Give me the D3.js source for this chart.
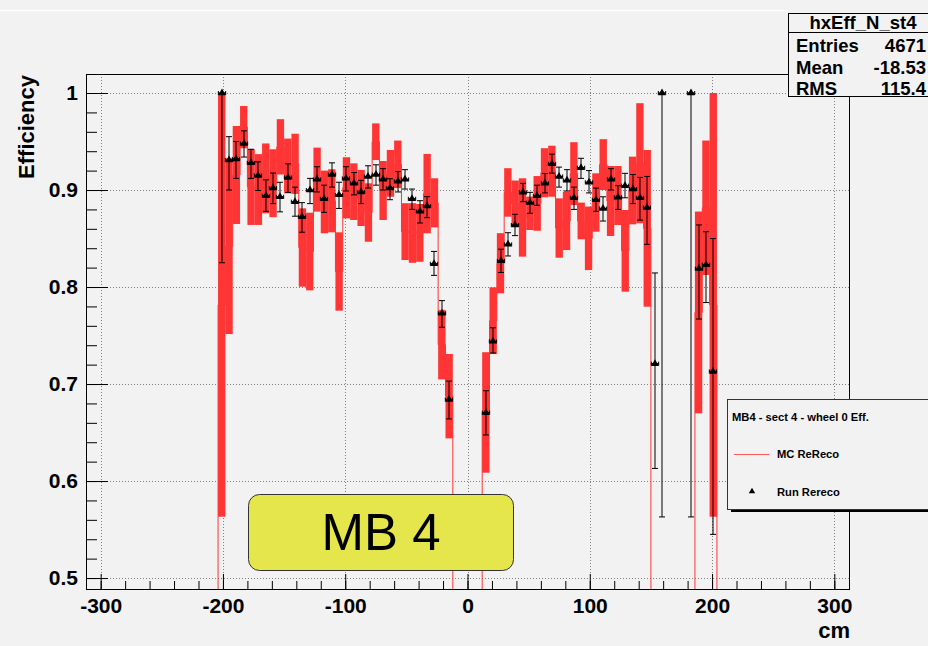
<!DOCTYPE html>
<html>
<head>
<meta charset="utf-8">
<script src="https://cdn.jsdelivr.net/npm/d3@7"></script>
<style>
  body { margin: 0; background: #f2f2f2; }
  svg { display: block; }
  text { font-family: "Liberation Sans", Arial, Helvetica, sans-serif; }
</style>
</head>
<body>
<svg id="chart" width="928" height="646"></svg>
<script>
// Bin centres along the chamber (cm), 6 cm bins
const binCenters = [
  -201, -195, -189, -183, -177, -171, -165, -159, -153, -147, -141, -135,
  -129, -123, -117, -111, -105, -99, -93, -87, -81, -75, -69, -63,
  -57, -51, -45, -39, -33, -27, -21, -15, -9, -3, 3, 9,
  15, 21, 27, 33, 39, 45, 51, 57, 63, 69, 75, 81,
  87, 93, 99, 105, 111, 117, 123, 129, 135, 141, 147, 153,
  159, 165, 171, 177, 183, 189, 195, 201
];
const binHalfWidth = 3;

// Run Rereco efficiency (null = empty bin) and asymmetric errors
const runEff = [
  1.0, 0.931, 0.932, 0.948, 0.928, 0.915, 0.894, 0.902, 0.893, 0.913, 0.888, 0.8725,
  0.900, 0.911, 0.891, 0.916, 0.895, 0.912, 0.907, 0.898, 0.914, 0.916, 0.911, 0.902,
  0.909, 0.911, 0.891, 0.878, 0.8835, 0.824, 0.773, 0.684, null, null, null, null,
  0.6705, 0.744, 0.827, 0.844, 0.864, 0.8976, 0.887, 0.894, 0.907, 0.927, 0.914, 0.910,
  0.892, 0.923, 0.908, 0.890, 0.881, 0.911, 0.8925, 0.9045, 0.901, 0.892, 0.882, 0.721,
  1.0, null, null, null, 1.0, 0.819, 0.823, 0.713
];
const runErrDown = [
  0.175, 0.031, 0.020, 0.014, 0.016, 0.0155, 0.016, 0.016, 0.0155, 0.0155, 0.015, 0.016,
  0.014, 0.013, 0.014, 0.013, 0.014, 0.013, 0.012, 0.012, 0.012, 0.011, 0.011, 0.012,
  0.011, 0.010, 0.011, 0.012, 0.012, 0.012, 0.0145, 0.020, 0, 0, 0, 0,
  0.023, 0.012, 0.012, 0.012, 0.011, 0.0096, 0.011, 0.0097, 0.010, 0.0096, 0.011, 0.011,
  0.012, 0.011, 0.011, 0.012, 0.013, 0.011, 0.0125, 0.0125, 0.015, 0.023, 0.038, 0.108,
  0.437, 0, 0, 0, 0.437, 0.052, 0.039, 0.168
];
const runErrUp = [
  0, 0.024, 0.018, 0.013, 0.014, 0.014, 0.0165, 0.0155, 0.015, 0.014, 0.015, 0.0145,
  0.012, 0.013, 0.014, 0.012, 0.013, 0.012, 0.011, 0.012, 0.011, 0.010, 0.011, 0.0096,
  0.010, 0.010, 0.010, 0.011, 0.0096, 0.0127, 0.013, 0.019, 0, 0, 0, 0,
  0.0226, 0.014, 0.012, 0.012, 0.011, 0.0093, 0.0106, 0.011, 0.010, 0.010, 0.0096, 0.011,
  0.011, 0.0097, 0.012, 0.012, 0.012, 0.011, 0.012, 0.0127, 0.015, 0.021, 0.032, 0.0935,
  0, 0, 0, 0, 0, 0.045, 0.034, 0.137
];

// MC ReReco efficiency and its error (drawn as filled error boxes)
const mcEff = [
  0.7816, 0.8421, 0.9155, 0.9648, 0.903, 0.9005, 0.912, 0.907, 0.9445, 0.9248, 0.927, 0.8407,
  0.8366, 0.9107, 0.8877, 0.8889, 0.816, 0.9023, 0.8983, 0.8918, 0.8768, 0.9498, 0.8995, 0.9172,
  0.9265, 0.8571, 0.8557, 0.8558, 0.8963, 0.8868, 0.7406, 0.6875, 0, 0, 0, 0,
  0.6707, 0.7653, 0.8245, 0.8975, 0.886, 0.8717, 0.876, 0.8862, 0.9178, 0.9194, 0.8608, 0.8682,
  0.9169, 0.8681, 0.8502, 0.8871, 0.9262, 0.8887, 0.8943, 0.8373, 0.8995, 0.9276, 0.8605, 0,
  0, 0, 0, 0, 0, 0.7738, 0.8817, 0.7816
];
const mcErr = [
  0.2184, 0.0906, 0.0505, 0.0218, 0.039, 0.0365, 0.036, 0.035, 0.0285, 0.0282, 0.031, 0.0404,
  0.040, 0.033, 0.0323, 0.0325, 0.0404, 0.0315, 0.0292, 0.0289, 0.0301, 0.0189, 0.0304, 0.0241,
  0.0245, 0.0293, 0.0307, 0.0298, 0.0409, 0.0253, 0.0358, 0.0435, 0, 0, 0, 0,
  0.0621, 0.0344, 0.031, 0.025, 0.0238, 0.0404, 0.0172, 0.0282, 0.0253, 0.0263, 0.0306, 0.0301,
  0.0324, 0.0189, 0.0327, 0.0301, 0.0262, 0.0361, 0.0304, 0.0421, 0.0349, 0.0619, 0.0808, 0,
  0, 0, 0, 0, 0, 0.104, 0.0693, 0.2184
];

const xTickValues = [-300, -200, -100, 0, 100, 200, 300];
const xMinorValues = [-300, -280, -260, -240, -220, -200, -180, -160, -140, -120, -100, -80,
  -60, -40, -20, 0, 20, 40, 60, 80, 100, 120, 140, 160, 180, 200, 220, 240, 260, 280, 300];
const yTickValues = [0.5, 0.6, 0.7, 0.8, 0.9, 1.0];
const yMinorValues = [0.5, 0.52, 0.54, 0.56, 0.58, 0.6, 0.62, 0.64, 0.66, 0.68, 0.7, 0.72,
  0.74, 0.76, 0.78, 0.8, 0.82, 0.84, 0.86, 0.88, 0.9, 0.92, 0.94, 0.96, 0.98, 1.0];

const statsTitle = "hxEff_N_st4";
const statsLabels = ["Entries", "Mean", "RMS"];
const statsValues = ["4671", "-18.53", "115.4"];
const legendTitle = "MB4 - sect 4 - wheel 0 Eff.";
const legendEntries = ["MC ReReco", "Run Rereco"];
const tagText = "MB 4";

const svg = d3.select("#chart");
const frame = { left: 86, right: 849, top: 74, bottom: 589 };
const bg = "#f2f2f2";
const red = "#ff3434";

svg.append("rect").attr("width", 928).attr("height", 646).attr("fill", bg);
svg.append("line").attr("x1", 0).attr("x2", 788).attr("y1", 10.5).attr("y2", 10.5)
  .attr("stroke", "#ffffff").attr("stroke-width", 1.5);

const x = d3.scaleLinear().domain([-312, 312]).range([frame.left, frame.right]);
const y = d3.scaleLinear().domain([0.4887, 1.0196]).range([frame.bottom, frame.top]);

svg.append("defs").append("clipPath").attr("id", "plotClip")
  .append("rect").attr("x", frame.left).attr("y", frame.top)
  .attr("width", frame.right - frame.left).attr("height", frame.bottom - frame.top);

// Grid
const grid = svg.append("g").attr("stroke", "#808080").attr("stroke-dasharray", "1,2").attr("stroke-width", 1);
grid.selectAll(".gx").data(xTickValues).join("line")
  .attr("x1", d => Math.round(x(d)) + 0.5).attr("x2", d => Math.round(x(d)) + 0.5)
  .attr("y1", frame.top).attr("y2", frame.bottom);
grid.selectAll(".gy").data(yTickValues).join("line")
  .attr("y1", d => Math.round(y(d)) + 0.5).attr("y2", d => Math.round(y(d)) + 0.5)
  .attr("x1", frame.left).attr("x2", frame.right);

const plot = svg.append("g").attr("clip-path", "url(#plotClip)");

// MC step outline: zero outside the range, stepping at every bin edge
const lastEdge = binCenters[binCenters.length - 1] + binHalfWidth;
const stepPts = [[-312, 0]]
  .concat(binCenters.map((c, i) => [c - binHalfWidth, mcEff[i]]))
  .concat([[lastEdge, 0], [312, 0]]);
plot.append("path")
  .attr("d", d3.line().x(d => x(d[0])).y(d => y(d[1])).curve(d3.curveStepAfter)(stepPts))
  .attr("fill", "none").attr("stroke", red).attr("stroke-width", 1);

// MC error boxes
const mcIdx = binCenters.map((c, i) => i).filter(i => mcErr[i] > 0);
plot.selectAll(".mcbox").data(mcIdx).join("rect")
  .attr("x", i => x(binCenters[i] - binHalfWidth))
  .attr("width", i => x(binCenters[i] + binHalfWidth) - x(binCenters[i] - binHalfWidth))
  .attr("y", i => y(mcEff[i] + mcErr[i]))
  .attr("height", i => y(mcEff[i] - mcErr[i]) - y(mcEff[i] + mcErr[i]))
  .attr("fill", red);

// Run Rereco points with error bars
const runIdx = binCenters.map((c, i) => i).filter(i => runEff[i] !== null);
const pts = plot.selectAll(".pt").data(runIdx).join("g")
  .attr("transform", i => `translate(${Math.round(x(binCenters[i]))},${y(runEff[i])})`);
pts.append("line")
  .attr("x1", 0).attr("x2", 0)
  .attr("y1", i => y(runEff[i] + runErrUp[i]) - y(runEff[i]))
  .attr("y2", i => y(runEff[i] - runErrDown[i]) - y(runEff[i]))
  .attr("stroke", "#000").attr("stroke-width", 1);
pts.filter(i => runErrUp[i] > 0).append("line")
  .attr("x1", -3).attr("x2", 3)
  .attr("y1", i => y(runEff[i] + runErrUp[i]) - y(runEff[i]))
  .attr("y2", i => y(runEff[i] + runErrUp[i]) - y(runEff[i]))
  .attr("stroke", "#000").attr("stroke-width", 1);
pts.append("line")
  .attr("x1", -3).attr("x2", 3)
  .attr("y1", i => y(runEff[i] - runErrDown[i]) - y(runEff[i]))
  .attr("y2", i => y(runEff[i] - runErrDown[i]) - y(runEff[i]))
  .attr("stroke", "#000").attr("stroke-width", 1);
const hw = x(binHalfWidth) - x(0);
pts.append("line").attr("x1", -hw).attr("x2", hw).attr("y1", 0).attr("y2", 0)
  .attr("stroke", "#000").attr("stroke-width", 1.3);
pts.append("line").attr("x1", -hw).attr("x2", -hw).attr("y1", -2).attr("y2", 2)
  .attr("stroke", "#000").attr("stroke-width", 1);
pts.append("line").attr("x1", hw).attr("x2", hw).attr("y1", -2).attr("y2", 2)
  .attr("stroke", "#000").attr("stroke-width", 1);
pts.append("path").attr("d", d3.symbol(d3.symbolTriangle, 26)()).attr("fill", "#000");

// Axes
const axFont = g => g.selectAll("text")
  .attr("font-family", "'Liberation Sans', Arial, sans-serif")
  .attr("font-weight", "bold").attr("font-size", 21).attr("fill", "#000");

svg.append("g").attr("transform", `translate(0,${frame.bottom})`)
  .call(d3.axisBottom(x).tickValues(xMinorValues).tickSizeInner(-8).tickSizeOuter(0).tickFormat(""));
const xAxis = svg.append("g").attr("transform", `translate(0,${frame.bottom})`)
  .call(d3.axisBottom(x).tickValues(xTickValues).tickSizeInner(-15).tickSizeOuter(0).tickPadding(9)
    .tickFormat(d => String(d)));
xAxis.call(axFont);
svg.append("g").attr("transform", `translate(${frame.left},0)`)
  .call(d3.axisLeft(y).tickValues(yMinorValues).tickSizeInner(-11).tickSizeOuter(0).tickFormat(""));
const yAxis = svg.append("g").attr("transform", `translate(${frame.left},0)`)
  .call(d3.axisLeft(y).tickValues(yTickValues).tickSizeInner(-22).tickSizeOuter(0).tickPadding(8)
    .tickFormat(d => d === 1 ? "1" : d.toFixed(1)));
yAxis.call(axFont);
svg.selectAll(".domain").remove();
svg.selectAll(".tick line").attr("stroke", "#000");

// Frame
svg.append("rect").attr("x", frame.left + 0.5).attr("y", frame.top + 0.5)
  .attr("width", frame.right - frame.left).attr("height", frame.bottom - frame.top)
  .attr("fill", "none").attr("stroke", "#000").attr("stroke-width", 1);

// Axis titles
svg.append("text").attr("transform", "translate(34,75) rotate(-90)")
  .attr("text-anchor", "end").attr("font-weight", "bold").attr("font-size", 22).text("Efficiency");
svg.append("text").attr("x", 850).attr("y", 638).attr("text-anchor", "end")
  .attr("font-weight", "bold").attr("font-size", 22).text("cm");

// Stats box
const stats = svg.append("g");
stats.append("rect").attr("x", 788.5).attr("y", 13.5).attr("width", 150).attr("height", 83)
  .attr("fill", bg).attr("stroke", "#000");
stats.append("line").attr("x1", 788).attr("x2", 940).attr("y1", 32.5).attr("y2", 32.5).attr("stroke", "#000");
stats.append("text").attr("x", 863).attr("y", 29).attr("text-anchor", "middle")
  .attr("font-weight", "bold").attr("font-size", 18.5).text(statsTitle);
statsLabels.forEach((lab, i) => {
  stats.append("text").attr("x", 796).attr("y", 52 + i * 21.5).attr("font-weight", "bold")
    .attr("font-size", 18.5).text(lab);
  stats.append("text").attr("x", 926).attr("y", 52 + i * 21.5).attr("text-anchor", "end")
    .attr("font-weight", "bold").attr("font-size", 18.5).text(statsValues[i]);
});

// Legend
const leg = svg.append("g");
leg.append("rect").attr("x", 731).attr("y", 509).attr("width", 210).attr("height", 3).attr("fill", "#000");
leg.append("rect").attr("x", 727.5).attr("y", 399.5).attr("width", 210).attr("height", 110)
  .attr("fill", bg).attr("stroke", "#333");
leg.append("text").attr("x", 732).attr("y", 421).attr("font-weight", "bold").attr("font-size", 11.2).text(legendTitle);
leg.append("line").attr("x1", 734).attr("x2", 769).attr("y1", 454.5).attr("y2", 454.5)
  .attr("stroke", "#ff5a5a").attr("stroke-width", 1);
leg.append("text").attr("x", 777).attr("y", 458).attr("font-weight", "bold").attr("font-size", 11.2).text(legendEntries[0]);
leg.append("path").attr("transform", "translate(752,491.5)").attr("d", d3.symbol(d3.symbolTriangle, 18)()).attr("fill", "#000");
leg.append("text").attr("x", 777).attr("y", 496).attr("font-weight", "bold").attr("font-size", 11.2).text(legendEntries[1]);

// Station tag
svg.append("rect").attr("x", 248.5).attr("y", 494.5).attr("width", 265).attr("height", 76).attr("rx", 11)
  .attr("fill", "#e5e54c").attr("stroke", "#333").attr("stroke-width", 1);
svg.append("text").attr("x", 381).attr("y", 550).attr("text-anchor", "middle")
  .attr("font-size", 51).attr("fill", "#000").text(tagText);
</script>
</body>
</html>
